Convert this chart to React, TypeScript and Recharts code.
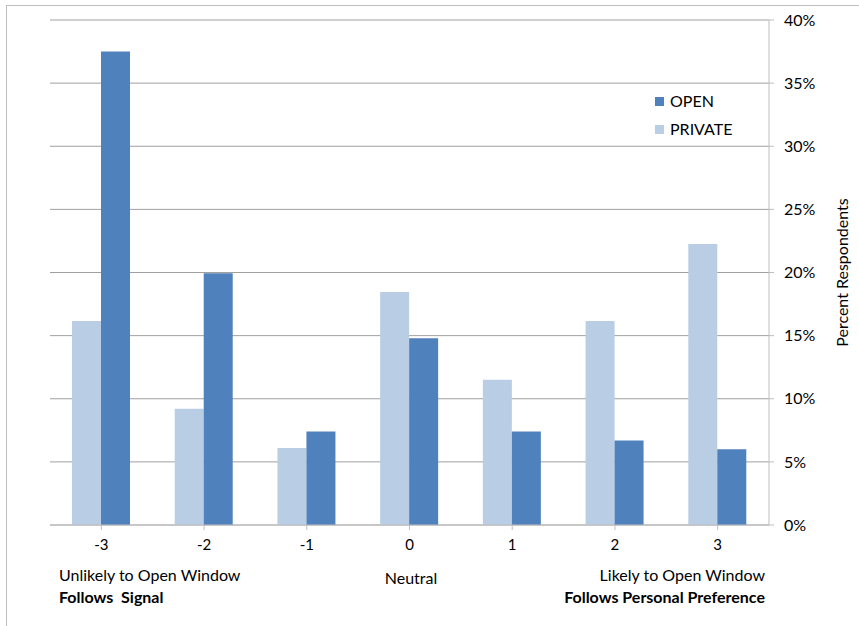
import { BarChart, Bar, XAxis, YAxis, CartesianGrid } from "recharts";

const categories = ["-3", "-2", "-1", "0", "1", "2", "3"];
const privateValues = [16.15, 9.2, 6.1, 18.45, 11.5, 16.15, 22.25];
const openValues = [37.5, 19.95, 7.4, 14.8, 7.4, 6.7, 6.0];
const yTicks = [0, 5, 10, 15, 20, 25, 30, 35, 40];

const data = categories.map((c, i) => ({
  cat: c,
  PRIVATE: privateValues[i],
  OPEN: openValues[i],
}));

const FONT = "Lato, 'Open Sans', sans-serif";

const legendItems = [
  { name: "OPEN", color: "#4F81BD" },
  { name: "PRIVATE", color: "#B9CDE5" },
];

export default function App() {
  return (
    <div style={{ position: "absolute", left: 0, top: 0, width: 859, height: 626, background: "#fff" }}>
      <BarChart
        width={859}
        height={626}
        data={data}
        margin={{ top: 20, right: 20, bottom: 71, left: 50 }}
        barCategoryGap={22}
        barGap={0}
        style={{ fontFamily: FONT }}
      >
        <rect x={6.5} y={5.5} width={900} height={700} fill="none" stroke="#BFBFBF" />
        <CartesianGrid vertical={false} stroke="#A0A0A0" strokeWidth={1} />
        <XAxis
          dataKey="cat"
          height={30}
          stroke="#BFBFBF"
          tickSize={5}
          tickMargin={9}
          tick={{ fill: "#000", fontSize: 15 }}
        />
        <YAxis
          orientation="right"
          width={70}
          domain={[0, 40]}
          ticks={yTicks}
          tickFormatter={(v) => `${v}%`}
          stroke="#BFBFBF"
          tickSize={5}
          tickMargin={10}
          tick={{ fill: "#000", fontSize: 16 }}
          label={{
            value: "Percent Respondents",
            angle: -90,
            position: "insideRight",
            offset: 0,
            dx: 3,
            style: { fill: "#000", fontSize: 16, textAnchor: "middle" },
          }}
        />
        <Bar dataKey="PRIVATE" fill="#B9CDE5" isAnimationActive={false} />
        <Bar dataKey="OPEN" fill="#4F81BD" isAnimationActive={false} />
        {legendItems.map((it, i) => (
          <g key={it.name}>
            <rect x={655} y={97 + i * 28} width={9} height={9} fill={it.color} />
            <text x={670} y={107 + i * 28} fontSize={16} fill="#000">{it.name}</text>
          </g>
        ))}
        <text x={59} y={581} fontSize={16} fill="#000">Unlikely to Open Window</text>
        <text x={59} y={603} fontSize={16} fontWeight="bold" fill="#000" style={{ whiteSpace: "pre" }}>Follows  Signal</text>
        <text x={411} y={584} fontSize={16} fill="#000" textAnchor="middle">Neutral</text>
        <text x={765} y={581} fontSize={16} fill="#000" textAnchor="end">Likely to Open Window</text>
        <text x={765} y={603} fontSize={16} fontWeight="bold" fill="#000" textAnchor="end">Follows Personal Preference</text>
      </BarChart>
    </div>
  );
}
